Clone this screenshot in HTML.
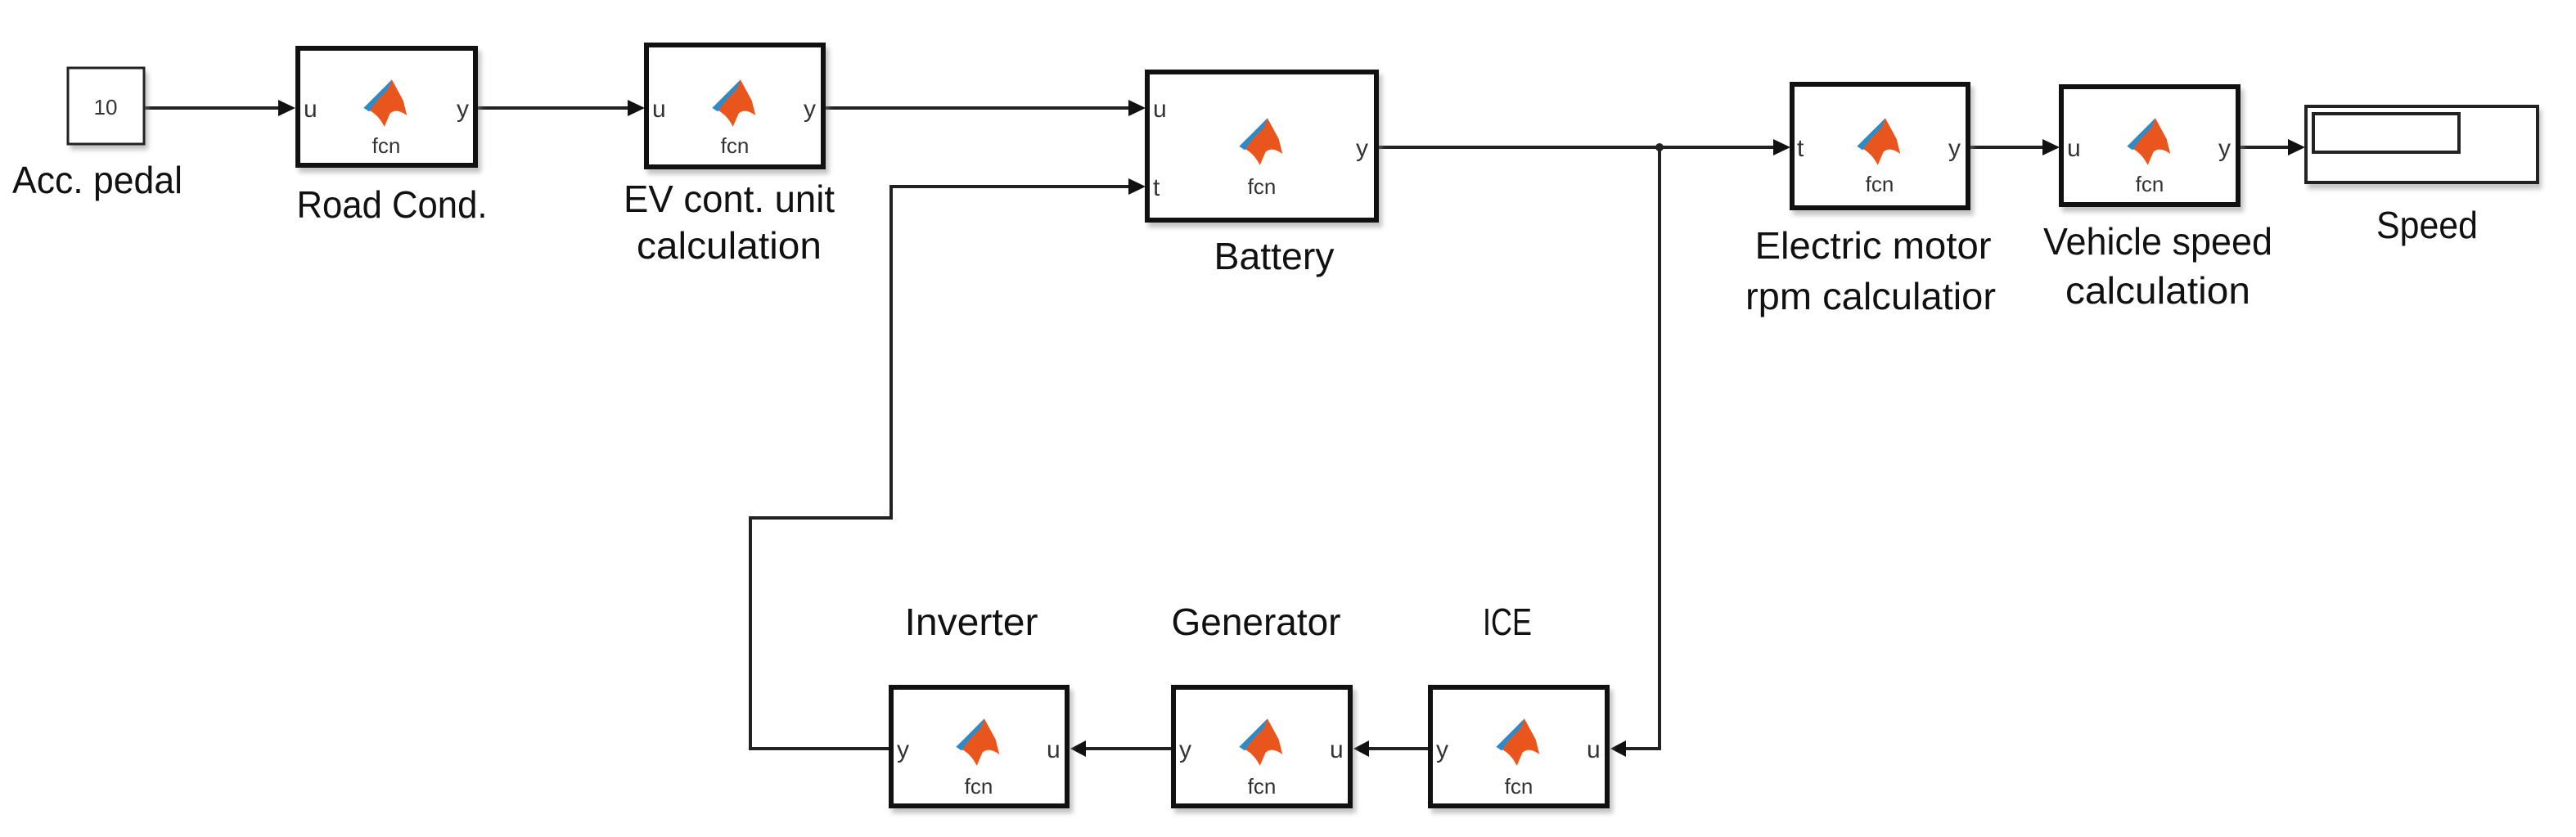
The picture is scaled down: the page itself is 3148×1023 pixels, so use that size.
<!DOCTYPE html>
<html><head><meta charset="utf-8"><style>
html,body{margin:0;padding:0;background:#fff;}
svg{display:block;}
.lbl{font-family:"Liberation Sans",sans-serif;font-size:46px;fill:#111;text-anchor:middle;}
.port{font-family:"Liberation Sans",sans-serif;font-size:30px;fill:#333;}
.fcn{font-family:"Liberation Sans",sans-serif;font-size:26px;fill:#333;text-anchor:middle;}
</style></head><body>
<svg width="3148" height="1023" viewBox="0 0 3148 1023" xmlns="http://www.w3.org/2000/svg">
<defs>
<filter id="sh" x="-10%" y="-10%" width="130%" height="130%"><feGaussianBlur stdDeviation="3"/></filter>
<g id="icon" transform="scale(1.15)">
  <path d="M-24,6 C-14,-4 -4,-14 6,-24 L18,-2 L22,14 C14,8 8,8 4,12 L-2,26 C-6,18 -12,10 -24,6 Z" fill="#e8561e"/>
  <path d="M-24,6 C-14,-4 -4,-14 6,-24 L2,-14 C-6,-6 -14,2 -18,10 Z" fill="#2a8ccd"/>
</g>
</defs>

<g fill="none" stroke="#222" stroke-width="4">
  <line x1="177" y1="132" x2="340" y2="132"/>
  <line x1="584" y1="132" x2="767" y2="132"/>
  <line x1="1009" y1="132" x2="1379" y2="132"/>
  <line x1="1685" y1="180" x2="2167" y2="180"/>
  <line x1="2408" y1="180" x2="2496" y2="180"/>
  <line x1="2738" y1="180" x2="2796" y2="180"/>
  <polyline points="2028,180 2028,915 1987,915"/>
  <line x1="1745" y1="915" x2="1673" y2="915"/>
  <line x1="1431" y1="915" x2="1327" y2="915"/>
  <polyline points="1086,915 917,915 917,633 1089,633 1089,228 1379,228"/>
</g>
<circle cx="2028" cy="180" r="5" fill="#222"/>
<g fill="#111">
  <polygon points="340,122 361,132 340,142"/>
  <polygon points="767,122 788,132 767,142"/>
  <polygon points="1379,122 1400,132 1379,142"/>
  <polygon points="1379,218 1400,228 1379,238"/>
  <polygon points="2167,170 2188,180 2167,190"/>
  <polygon points="2496,170 2517,180 2496,190"/>
  <polygon points="2796,170 2817,180 2796,190"/>
  <polygon points="1987,905 1968,915 1987,925"/>
  <polygon points="1673,905 1654,915 1673,925"/>
  <polygon points="1327,905 1308,915 1327,925"/>
</g>

<g fill="#888" opacity="0.5" filter="url(#sh)">
  <rect x="86" y="88" width="95" height="95"/>
  <rect x="365" y="62" width="223" height="149"/>
  <rect x="791" y="58" width="222" height="155"/>
  <rect x="1403" y="91" width="286" height="187"/>
  <rect x="2191" y="106" width="221" height="157"/>
  <rect x="2520" y="109" width="222" height="150"/>
  <rect x="2820" y="134" width="286" height="97"/>
  <rect x="1090" y="843" width="221" height="151"/>
  <rect x="1435" y="843" width="222" height="151"/>
  <rect x="1749" y="843" width="222" height="151"/>
</g>

<rect x="83" y="83" width="93" height="93" fill="#fff" stroke="#222" stroke-width="3"/>
<text x="129" y="140" font-family="Liberation Sans,sans-serif" font-size="26" fill="#333" text-anchor="middle">10</text>

<g fill="#fff" stroke="#111" stroke-width="6">
  <rect x="364" y="59" width="217" height="143"/>
  <rect x="790" y="55" width="216" height="149"/>
  <rect x="1402" y="88" width="280" height="181"/>
  <rect x="2190" y="103" width="215" height="151"/>
  <rect x="2519" y="106" width="216" height="144"/>
  <rect x="1089" y="840" width="215" height="145"/>
  <rect x="1434" y="840" width="216" height="145"/>
  <rect x="1748" y="840" width="216" height="145"/>
</g>
<rect x="2818" y="130" width="283" height="93" fill="#fff" stroke="#222" stroke-width="4"/>
<rect x="2827" y="139" width="178" height="47" fill="#fff" stroke="#222" stroke-width="4"/>

<use href="#icon" x="472" y="125"/><text class="fcn" x="472" y="187">fcn</text>
<use href="#icon" x="898" y="125"/><text class="fcn" x="898" y="187">fcn</text>
<use href="#icon" x="1542" y="172"/><text class="fcn" x="1542" y="237">fcn</text>
<use href="#icon" x="2297" y="172"/><text class="fcn" x="2297" y="234">fcn</text>
<use href="#icon" x="2627" y="172"/><text class="fcn" x="2627" y="234">fcn</text>
<use href="#icon" x="1196" y="906"/><text class="fcn" x="1196" y="970">fcn</text>
<use href="#icon" x="1542" y="906"/><text class="fcn" x="1542" y="970">fcn</text>
<use href="#icon" x="1856" y="906"/><text class="fcn" x="1856" y="970">fcn</text>

<text class="port" x="371" y="143">u</text><text class="port" x="558" y="143">y</text>
<text class="port" x="797" y="143">u</text><text class="port" x="982" y="143">y</text>
<text class="port" x="1409" y="143">u</text><text class="port" x="1409" y="239">t</text><text class="port" x="1657" y="191">y</text>
<text class="port" x="2196" y="191">t</text><text class="port" x="2381" y="191">y</text>
<text class="port" x="2526" y="191">u</text><text class="port" x="2711" y="191">y</text>
<text class="port" x="1096" y="926">y</text><text class="port" x="1279" y="926">u</text>
<text class="port" x="1441" y="926">y</text><text class="port" x="1625" y="926">u</text>
<text class="port" x="1755" y="926">y</text><text class="port" x="1939" y="926">u</text>

<text class="lbl" x="119" y="236" textLength="208" lengthAdjust="spacingAndGlyphs">Acc. pedal</text>
<text class="lbl" x="479" y="266" textLength="233" lengthAdjust="spacingAndGlyphs">Road Cond.</text>
<text class="lbl" x="891" y="259" textLength="258" lengthAdjust="spacingAndGlyphs">EV cont. unit</text>
<text class="lbl" x="891" y="316" textLength="226" lengthAdjust="spacingAndGlyphs">calculation</text>
<text class="lbl" x="1557" y="329" textLength="147" lengthAdjust="spacingAndGlyphs">Battery</text>
<text class="lbl" x="2289" y="316" textLength="289" lengthAdjust="spacingAndGlyphs">Electric motor</text>
<text class="lbl" x="2286" y="378" textLength="306" lengthAdjust="spacingAndGlyphs">rpm calculatior</text>
<text class="lbl" x="2637" y="311" textLength="280" lengthAdjust="spacingAndGlyphs">Vehicle speed</text>
<text class="lbl" x="2637" y="371" textLength="226" lengthAdjust="spacingAndGlyphs">calculation</text>
<text class="lbl" x="2966" y="291" textLength="124" lengthAdjust="spacingAndGlyphs">Speed</text>
<text class="lbl" x="1187" y="776" textLength="163" lengthAdjust="spacingAndGlyphs">Inverter</text>
<text class="lbl" x="1535" y="776" textLength="207" lengthAdjust="spacingAndGlyphs">Generator</text>
<text class="lbl" x="1842" y="776" textLength="60" lengthAdjust="spacingAndGlyphs">ICE</text>
</svg>
</body></html>
